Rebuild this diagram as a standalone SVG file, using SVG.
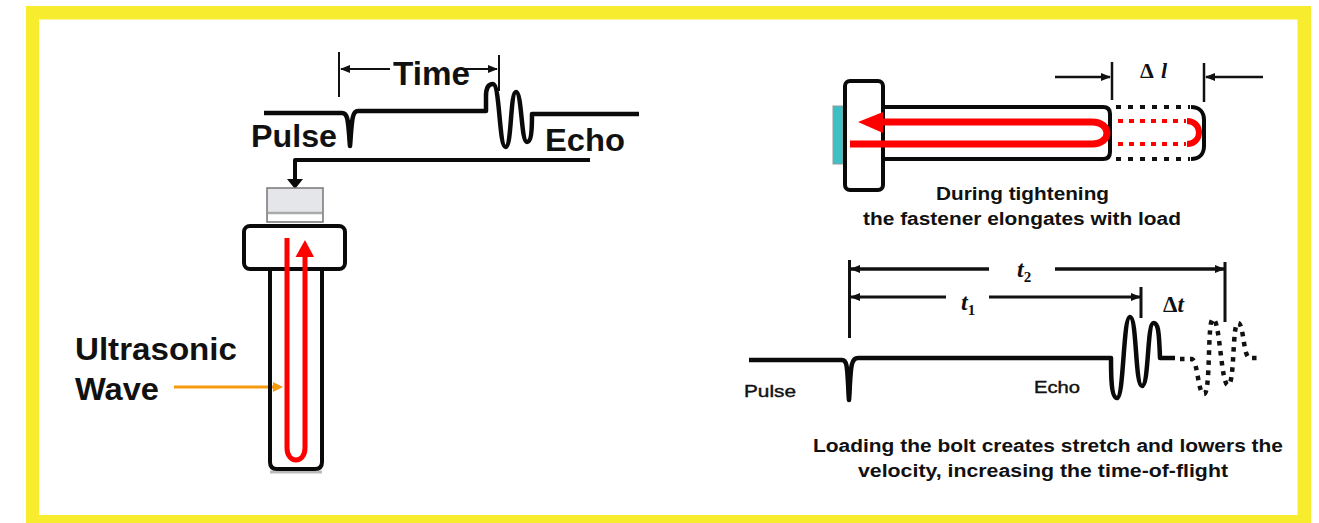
<svg xmlns="http://www.w3.org/2000/svg" width="1319" height="523" viewBox="0 0 1319 523">
<defs>
<marker id="thin" markerUnits="userSpaceOnUse" markerWidth="10" markerHeight="8" refX="9" refY="4" orient="auto-start-reverse"><path d="M0 0L10 4L0 8z" fill="#111"/></marker>
</defs>
<style>
text{font-family:"Liberation Sans",Arial,sans-serif;fill:#111;font-weight:bold}
.b{fill:none;stroke:#0a0a0a;stroke-width:4;stroke-linejoin:round}
.w{fill:none;stroke:#0a0a0a;stroke-width:4.500;stroke-linejoin:round}
.t{fill:none;stroke:#111;stroke-width:2}
.r{fill:none;stroke:#f00;stroke-width:7}
.rd{fill:none;stroke:#f00;stroke-width:4;stroke-dasharray:5 6}
.d{fill:none;stroke:#111;stroke-width:4;stroke-dasharray:5 7}
.dw{fill:none;stroke:#111;stroke-width:4.500;stroke-dasharray:4.500 5.500}
.s{font-family:"Liberation Serif",serif}
.i{font-style:italic}
.n{font-weight:normal;stroke:#111;stroke-width:.4}
</style>
<rect width="1319" height="523" fill="#fff"/>
<g id="frame">
<rect x="26" y="6" width="1285" height="517" fill="#f7ec2e"/>
<rect x="39" y="19.500" width="1258.500" height="495.500" fill="#fff"/>
</g>
<g id="connectors">
<path class="t" d="M339 52V97M499 55V91"/>
<path class="t" marker-start="url(#thin)" d="M341 69H390"/>
<path class="t" marker-end="url(#thin)" d="M464 69H497"/>
<path class="b" d="M590 160H295V180"/>
<path d="M287 179H303L295 189z" fill="#0a0a0a"/>
<path d="M174 387H273" fill="none" stroke="#f59a0c" stroke-width="3"/>
<path d="M273 382L283 387L273 392z" fill="#f59a0c"/>
<path class="t" style="stroke-width:2.500" d="M1112 62V100M1204 63V102"/>
<path class="t" style="stroke-width:2.500" marker-end="url(#thin)" d="M1055 77H1110"/>
<path class="t" style="stroke-width:2.500" marker-end="url(#thin)" d="M1263 77H1206"/>
<path class="t" style="stroke-width:3" d="M849.500 260V338M1141 287V318M1225 262V322"/>
<path class="t" style="stroke-width:3.500" marker-start="url(#thin)" d="M851 269H989"/>
<path class="t" style="stroke-width:3.500" marker-end="url(#thin)" d="M1055 269H1224"/>
<path class="t" style="stroke-width:3" marker-start="url(#thin)" d="M851 297H946"/>
<path class="t" style="stroke-width:3" marker-end="url(#thin)" d="M989 297H1140"/>
</g>
<g id="pulse-trace-left">
<path class="w" d="M264 113H342C348 113 348 120 350 146C352 120 352 111 358 111H486V96C486 87 489 84 493 84C500 84 499 147 505.500 147C512 147 510 92 516 92C522 92 521 142 527 142C531 142 532 132 532 114H639"/>
<path d="M347 120H353L352 146H348z" fill="#0a0a0a"/>
</g>
<g id="sensor">
<rect x="267" y="188" width="56" height="34" fill="#e4e6ea" stroke="#777" stroke-width="1.500"/>
<rect x="268" y="213" width="54" height="8" fill="#fff"/>
<path d="M268 213H322" stroke="#aaa" stroke-width="2.500"/>
</g>
<g id="bolt-left">
<path d="M270 472H322" stroke="#bbb" stroke-width="3"/>
<path class="b" d="M270 268V462Q270 469 277 469H315Q322 469 322 462V268"/>
<rect class="b" x="244" y="226" width="101" height="43" rx="6"/>
<path class="r" style="stroke-width:5" d="M287 238V448C287 464 305 464 305 448V252"/>
<path d="M295.500 257L305 240L314 257z" fill="#f00"/>
</g>
<g id="bolt-right">
<rect x="833" y="106" width="10" height="58" fill="#3cc0c4" stroke="#999" stroke-width="1"/>
<path class="b" d="M885 107H1103Q1110 107 1110 114V152Q1110 159 1103 159H885"/>
<rect class="b" x="845" y="81" width="38" height="109" rx="5"/>
<path class="d" d="M1116 107H1190M1116 159H1190"/>
<path class="b" d="M1191 107C1199 107 1204 112 1204 120V146C1204 154 1199 159 1191 159"/>
<path class="r" d="M850 144H1092C1112 144 1112 122 1092 122H880"/>
<path d="M858 122L883 112V133z" fill="#f00"/>
<path class="rd" d="M1118 121H1186M1118 144H1186"/>
<path class="r" style="stroke-width:6" d="M1187 121C1203 121 1203 144 1187 144"/>
</g>
<g id="pulse-trace-right">
<path class="w" d="M749 360H842C848 360 847 370 849 400C851 370 850 358 858 358H1111C1111 375 1111 398 1117 398C1124 398 1123 317 1130 317C1137 317 1135 386 1142 386C1149 386 1147 323 1153.500 323C1158 323 1159 330 1160 358H1175"/>
<path d="M846 372H852L851 400H847z" fill="#0a0a0a"/>
<path class="dw" d="M1180 359H1192C1198 362 1198 394 1204 394C1211 394 1207 319 1213 319C1220 319 1221 385 1228 385C1235 385 1232 323 1238 323C1244 323 1243 358 1250 358H1262"/>
</g>
<g id="labels">
<text x="393" y="85" font-size="33" textLength="77" lengthAdjust="spacingAndGlyphs">Time</text>
<text x="251" y="147" font-size="31" textLength="86" lengthAdjust="spacingAndGlyphs">Pulse</text>
<text x="545" y="151" font-size="31" textLength="80" lengthAdjust="spacingAndGlyphs">Echo</text>
<text x="75" y="360" font-size="31" textLength="162" lengthAdjust="spacingAndGlyphs">Ultrasonic</text>
<text x="75" y="400" font-size="31" textLength="84" lengthAdjust="spacingAndGlyphs">Wave</text>
<text class="s" x="1140" y="78" font-size="22" textLength="27">Δ<tspan class="i">l</tspan></text>
<text x="936" y="200" font-size="18" textLength="173" lengthAdjust="spacingAndGlyphs">During tightening</text>
<text x="863" y="225" font-size="18" textLength="318" lengthAdjust="spacingAndGlyphs">the fastener elongates with load</text>
<text class="s i" x="1017" y="277" font-size="24">t<tspan font-size="15" dy="5" style="font-style:normal">2</tspan></text>
<text class="s i" x="961" y="310" font-size="24">t<tspan font-size="15" dy="5" style="font-style:normal">1</tspan></text>
<text class="s" x="1163" y="312" font-size="23">Δ<tspan class="i">t</tspan></text>
<text class="n" x="744" y="397" font-size="16" textLength="52" lengthAdjust="spacingAndGlyphs">Pulse</text>
<text class="n" x="1034" y="393" font-size="16" textLength="46" lengthAdjust="spacingAndGlyphs">Echo</text>
<text x="813" y="452" font-size="18" textLength="470" lengthAdjust="spacingAndGlyphs">Loading the bolt creates stretch and lowers the</text>
<text x="858" y="477" font-size="18" textLength="370" lengthAdjust="spacingAndGlyphs">velocity, increasing the time-of-flight</text>
</g>
</svg>
